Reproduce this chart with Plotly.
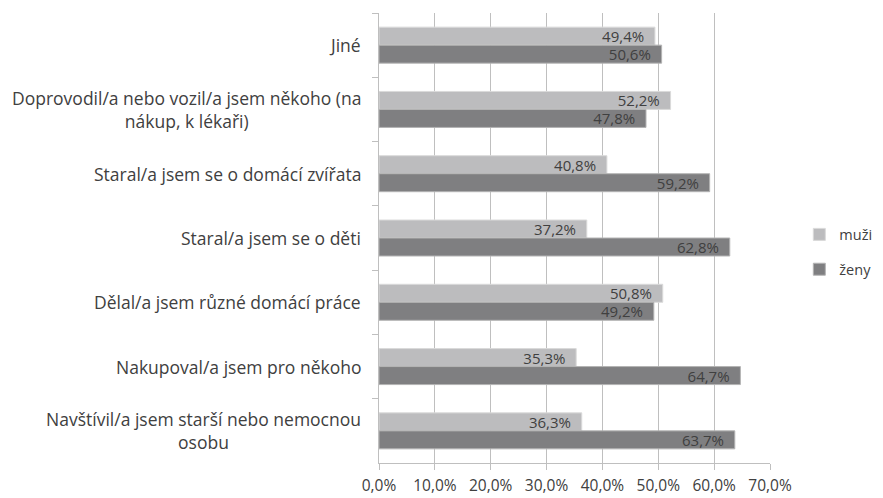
import plotly.graph_objects as go

categories = [
    "Jiné",
    "Doprovodil/a nebo vozil/a jsem někoho (na<br>nákup, k lékaři)",
    "Staral/a jsem se o domácí zvířata",
    "Staral/a jsem se o děti",
    "Dělal/a jsem různé domácí práce",
    "Nakupoval/a jsem pro někoho",
    "Navštívil/a jsem starší nebo nemocnou<br>osobu",
]
muzi = [49.4, 52.2, 40.8, 37.2, 50.8, 35.3, 36.3]
zeny = [50.6, 47.8, 59.2, 62.8, 49.2, 64.7, 63.7]
x_ticks = [0, 10, 20, 30, 40, 50, 60, 70]
x_tick_labels = ["0,0%", "10,0%", "20,0%", "30,0%", "40,0%", "50,0%", "60,0%", "70,0%"]

FONT = "Open Sans"
TXT = "#404040"

def fmt(v):
    return f"{v:.1f}%".replace(".", ",") + "\u00a0\u00a0"

fig = go.Figure()
fig.add_trace(go.Bar(
    y=categories, x=muzi, orientation="h", name="muži", legendgroup="m",
    marker=dict(color="#bcbcbe", line=dict(color="#dadada", width=1)),
    text=[fmt(v) for v in muzi], textposition="inside", insidetextanchor="end",
    constraintext="none",
    textfont=dict(family=FONT, size=15, color=TXT), cliponaxis=False,
))
fig.add_trace(go.Bar(
    y=categories, x=zeny, orientation="h", name="ženy", legendgroup="z",
    marker=dict(color="#7f7f81", line=dict(color="#b4b4b4", width=1)),
    text=[fmt(v) for v in zeny], textposition="inside", insidetextanchor="end",
    constraintext="none",
    textfont=dict(family=FONT, size=15, color=TXT), cliponaxis=False,
))

for c in categories:
    fig.add_annotation(
        x=-0.041, xref="paper", y=c, yref="y", text=c, showarrow=False,
        xanchor="right", align="center", yanchor="middle",
        font=dict(family=FONT, size=17.5, color=TXT),
    )

fig.update_layout(
    width=875, height=490,
    margin=dict(l=371, r=113, t=5, b=35, autoexpand=False),
    paper_bgcolor="white", plot_bgcolor="white",
    barmode="group", bargap=0.44, bargroupgap=0,
    showlegend=True,
    legend=dict(x=1.075, y=0.469, xanchor="left", yanchor="middle",
                font=dict(family=FONT, size=14.5, color=TXT),
                tracegroupgap=13, itemwidth=30, bgcolor="rgba(0,0,0,0)"),
    font=dict(family=FONT, color=TXT),
)
fig.update_xaxes(
    range=[0, 70], tickvals=x_ticks, ticktext=x_tick_labels,
    showgrid=True, gridcolor="#bfbfbf", gridwidth=1,
    showline=True, linecolor="#bfbfbf", linewidth=1,
    ticks="outside", ticklen=6, tickcolor="#bfbfbf",
    tickfont=dict(family=FONT, size=15.5, color=TXT), zeroline=False,
    ticklabelstandoff=2,
)
fig.update_yaxes(
    autorange="reversed", type="category",
    showticklabels=False,
    showline=True, linecolor="#bfbfbf", linewidth=1,
    ticks="outside", ticklen=6, tickcolor="#bfbfbf", tickson="boundaries",
    showgrid=False,
)

fig.write_html("out.html")
